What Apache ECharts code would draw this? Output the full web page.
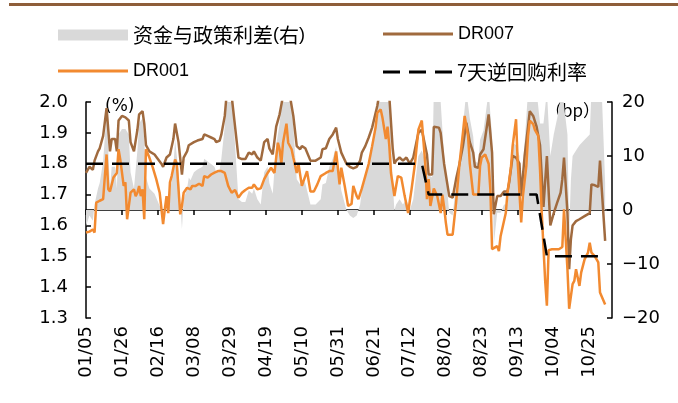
<!DOCTYPE html>
<html>
<head>
<meta charset="utf-8">
<script src="https://cdn.jsdelivr.net/npm/echarts@6/dist/echarts.min.js"></script>
<style>
html,body{margin:0;padding:0;background:#fff;}
#main{width:678px;height:403px;}
</style>
</head>
<body>
<div id="main"></div>
<script>
// x = days since 2024-01-05, labels every 21 days
var startY = 2024, startM = 0, startD = 5;

// DR007 (%)
var dr007Days = [0,2,4,5,7,8,10,12,13,14,15,17,18,19,21,23,25,26,28,30,31,33,34,35,37,40,44,45,47,49,51,52,54,56,57,59,60,61,63,65,68,69,71,73,75,76,78,79,81,82,85,87,89,91,93,95,97,98,100,102,104,106,107,109,111,113,115,119,121,123,125,126,128,131,134,137,138,140,142,144,146,147,149,152,154,156,158,160,161,163,165,167,170,171,177,179,180,181,183,185,187,189,191,194,196,199,200,202,203,206,207,209,212,214,216,218,220,222,224,226,227,229,230,232,235,237,238,240,242,244,246,247,249,251,253,254,256,258,259,261,263,265,267,269,271,273,275,277,278,279,281,282,283,284,286,288,291,294,295,297,299,300,301,303];
var dr007Vals = [1.77,1.79,1.78,1.81,1.84,1.85,1.89,1.98,1.985,1.84,1.88,1.88,1.84,1.94,1.955,1.95,1.94,1.87,1.84,1.91,1.96,1.97,1.93,1.86,1.84,1.83,1.80,1.79,1.82,1.83,1.88,1.93,1.87,1.765,1.82,1.84,1.86,1.855,1.87,1.875,1.88,1.895,1.89,1.885,1.88,1.87,1.875,1.895,1.955,2.02,2.02,1.92,1.82,1.815,1.815,1.836,1.83,1.84,1.82,1.81,1.87,1.88,1.85,1.83,1.92,1.96,2.02,2.02,1.955,1.857,1.847,1.857,1.85,1.81,1.81,1.82,1.847,1.85,1.88,1.895,1.917,1.88,1.836,1.80,1.79,1.785,1.79,1.81,1.836,1.857,1.885,1.917,1.987,2.02,2.02,1.85,1.80,1.81,1.82,1.81,1.82,1.80,1.82,1.90,1.91,1.83,1.765,1.765,1.92,1.917,1.90,1.80,1.695,1.69,1.75,1.80,1.857,1.933,1.87,1.836,1.79,1.787,1.83,1.847,1.96,1.836,1.636,1.695,1.695,1.71,1.71,1.74,1.825,1.82,1.80,1.695,1.825,1.92,1.97,1.955,1.92,1.86,1.66,1.825,1.60,1.64,1.674,1.706,1.75,1.82,1.64,1.458,1.555,1.60,1.614,1.62,1.63,1.64,1.733,1.73,1.725,1.81,1.72,1.55];

// DR001 (%)
var dr001Days = [0,2,4,5,6,8,10,12,13,14,16,17,18,19,20,22,23,24,26,27,28,29,30,31,32,33,34,35,37,39,41,43,45,46,47,48,49,50,52,53,55,56,57,59,61,62,64,66,68,69,71,73,75,77,79,81,83,85,87,89,91,93,95,97,98,100,102,104,106,108,110,112,113,114,115,117,118,120,121,123,124,126,127,129,131,133,135,137,140,142,144,146,148,149,151,153,155,156,158,159,161,163,165,167,169,170,172,173,175,176,177,178,180,182,184,186,188,189,190,192,194,196,197,198,199,200,201,203,205,207,208,209,210,211,212,214,216,218,220,221,223,224,226,227,229,230,231,233,235,236,237,238,240,241,242,243,245,246,248,249,251,252,254,255,257,258,259,261,262,264,265,266,268,269,270,272,274,276,278,279,280,281,282,284,285,286,288,289,291,293,294,295,297,299,300,303];
var dr001Vals = [1.577,1.58,1.587,1.577,1.674,1.68,1.685,1.83,1.717,1.71,1.755,1.76,1.77,1.847,1.814,1.728,1.74,1.62,1.706,1.706,1.717,1.695,1.706,1.728,1.695,1.717,1.62,1.847,1.82,1.787,1.75,1.706,1.604,1.652,1.695,1.64,1.74,1.76,1.814,1.80,1.636,1.663,1.706,1.722,1.717,1.728,1.728,1.735,1.728,1.76,1.755,1.765,1.771,1.776,1.776,1.77,1.728,1.706,1.715,1.69,1.706,1.715,1.722,1.722,1.733,1.717,1.72,1.75,1.77,1.787,1.77,1.868,1.847,1.80,1.868,1.93,1.868,1.847,1.82,1.77,1.80,1.728,1.733,1.776,1.71,1.71,1.733,1.76,1.77,1.776,1.776,1.84,1.733,1.787,1.728,1.663,1.67,1.728,1.695,1.685,1.72,1.76,1.80,1.857,1.917,1.965,1.976,1.95,1.88,1.92,1.86,1.77,1.695,1.76,1.755,1.695,1.64,1.68,1.717,1.80,1.91,1.94,1.87,1.80,1.685,1.75,1.663,1.72,1.695,1.64,1.70,1.66,1.61,1.57,1.566,1.57,1.674,1.80,1.90,1.955,1.89,1.80,1.70,1.695,1.70,1.793,1.82,1.83,1.80,1.717,1.523,1.525,1.533,1.517,1.566,1.566,1.64,1.706,1.787,1.857,1.944,1.80,1.61,1.695,1.793,1.89,1.94,1.928,1.91,1.89,1.78,1.64,1.42,1.34,1.52,1.523,1.523,1.523,1.53,1.652,1.555,1.458,1.33,1.41,1.42,1.458,1.404,1.447,1.49,1.512,1.544,1.512,1.50,1.48,1.383,1.344];

// 资金与政策利差 (bp, right axis)
var spreadDays = [0,2,4,5,7,8,10,12,13,14,15,17,18,19,21,23,25,26,28,30,31,33,34,35,37,40,44,45,47,49,51,52,54,56,57,59,60,61,63,65,68,69,71,73,75,76,78,79,81,82,85,87,89,91,93,95,97,98,100,102,104,106,107,109,111,113,115,119,121,123,125,126,128,131,134,137,138,140,142,144,146,147,149,152,154,156,158,160,161,163,165,167,170,171,177,179,180,181,183,185,187,189,191,194,196,199,200,202,203,206,207,209,212,214,216,218,220,222,224,226,227,229,230,232,235,237,238,240,242,244,246,247,249,251,253,254,256,258,259,261,263,265,267,269,271,273,275,277,278,279,281,282,283,284,286,288,291,294,295,297,299,300,301,303];
var spreadVals = [-3,-1,-2,1,4,5,9,18,18,4,8,8,4,14,15,15,14,7,4,11,16,17,13,6,4,3,0,-1,2,3,8,13,7,-3.5,2,4,6,5.5,7,7.5,8,9.5,9,8.5,8,7,7.5,9.5,15.5,22,22,12,2,1.5,1.5,3.6,3,4,2,1,7,8,5,3,12,16,22,22,15.5,5.7,4.7,5.7,5,1,1,2,4.7,5,8,9.5,11.7,8,3.6,0,-1,-1.5,-1,1,3.6,5.7,8.5,11.7,18.7,22,22,5,0,1,2,1,2,0,2,10,11,8,6.5,6,22,21.7,20,10,-0.5,-1,5,10,15.7,22,17,13.6,9,8.7,13,14.7,22,13.6,-6.4,-0.5,-0.5,1,1,4,12.5,12,10,-0.5,12.5,22,22,22,22,16,16,22,10,14,17,20.6,22,22,14,-4,5.5,10,11,12,13,14,22,22,22,22,22,5];

// 7天逆回购利率 (%)
var repoDays = [0,196,200,263,269,303];
var repoVals = [1.8,1.8,1.7,1.7,1.5,1.5];

function pair(days, vals) {
	var out = [];
	for (var i = 0; i < days.length; i++) {
		out.push([days[i], vals[i]]);
	}
	return out;
}
function pad(n) {
	return n < 10 ? '0' + n : '' + n;
}
function dayLabel(v) {
	var d = new Date(startY, startM, startD + v);
	return pad(d.getMonth() + 1) + '/' + pad(d.getDate());
}
// chinese runs a bit bigger than latin, like the original
function legendFmt(name) {
	return name.replace(/([\u4e00-\u9fa5]+)/g, '{c|$1}');
}

var axisFont = 'DejaVu Sans';
var legendText = {
	fontSize : 18,
	color : '#000',
	fontFamily : 'Liberation Sans',
	rich : {
		c : {fontSize : 20, color : '#000', fontFamily : 'Noto Sans CJK SC'}
	}
};
var lineIcon = 'path://M0,0H70V3H0Z';
var dashIcon = 'path://M0,0H17V3H0ZM26,0H43V3H26ZM52,0H69V3H52Z';

var myChart = echarts.init(document.getElementById('main'));
var option = {
	animation : false,
	backgroundColor : '#fff',
	grid : {
		left : 86,
		right : 66,
		top : 102,
		bottom : 85
	},
	legend : [{
		data : [{name : '资金与政策利差(右)', icon : 'rect'}],
		left : 58, top : 25, padding : 0,
		itemWidth : 70, itemHeight : 11,
		formatter : legendFmt,
		textStyle : legendText
	}, {
		data : [{name : 'DR007', icon : lineIcon}],
		left : 383, top : 25, padding : 0,
		itemWidth : 70, itemHeight : 3,
		formatter : legendFmt,
		textStyle : legendText
	}, {
		data : [{name : 'DR001', icon : lineIcon}],
		left : 58, top : 62, padding : 0,
		itemWidth : 70, itemHeight : 3,
		formatter : legendFmt,
		textStyle : legendText
	}, {
		data : [{name : '7天逆回购利率', icon : dashIcon}],
		left : 383, top : 62, padding : 0,
		itemWidth : 69, itemHeight : 3,
		formatter : legendFmt,
		textStyle : legendText
	}],
	graphic : [{
		type : 'rect',
		shape : {x : 9, y : 3, width : 669, height : 3},
		style : {fill : '#8E5E3A'}
	}, {
		type : 'text',
		left : 105, top : 98,
		style : {text : '(%)', fontSize : 17, fill : '#000', fontFamily : axisFont}
	}, {
		type : 'text',
		left : 545, top : 102,
		style : {text : '（bp）', fontSize : 17, fill : '#000', fontFamily : 'Noto Sans CJK SC'}
	}],
	xAxis : {
		type : 'value',
		min : 0,
		max : 307,
		interval : 21,
		splitLine : {show : false},
		axisLine : {lineStyle : {color : '#000', width : 1.5}},
		axisTick : {length : 5, lineStyle : {color : '#000', width : 1.5}},
		axisLabel : {
			rotate : 90,
			fontSize : 18,
			color : '#000',
			fontFamily : axisFont,
			margin : 8,
			showMaxLabel : false,
			formatter : function(v) {
				return v % 21 === 0 ? dayLabel(v) : '';
			}
		}
	},
	yAxis : [{
		type : 'value',
		min : 1.3,
		max : 2.0,
		interval : 0.1,
		position : 'left',
		splitLine : {show : false},
		axisLine : {show : true, lineStyle : {color : '#000', width : 1.5}},
		axisTick : {show : true, inside : true, length : 5, lineStyle : {color : '#000', width : 1.5}},
		axisLabel : {
			fontSize : 18,
			color : '#000',
			fontFamily : axisFont,
			margin : 18,
			formatter : function(v) {
				return v.toFixed(1);
			}
		}
	}, {
		type : 'value',
		min : -20,
		max : 20,
		interval : 10,
		position : 'right',
		splitLine : {show : false},
		axisLine : {show : true, lineStyle : {color : '#000', width : 1.5}},
		axisTick : {show : true, inside : true, length : 5, lineStyle : {color : '#000', width : 1.5}},
		axisLabel : {
			fontSize : 18,
			color : '#000',
			fontFamily : axisFont,
			margin : 10,
			formatter : function(v) {
				return v < 0 ? '\u2212' + (-v) : '' + v;
			}
		}
	}],
	series : [{
		name : '资金与政策利差(右)',
		type : 'line',
		yAxisIndex : 1,
		data : pair(spreadDays, spreadVals),
		symbol : 'none',
		itemStyle : {color : '#D9D9D9'},
		lineStyle : {width : 0, color : '#D9D9D9'},
		areaStyle : {color : '#D9D9D9', opacity : 1},
		z : 1
	}, {
		name : 'DR007',
		type : 'line',
		data : pair(dr007Days, dr007Vals),
		symbol : 'none',
		itemStyle : {color : '#A06A3E'},
		lineStyle : {width : 2.5, color : '#A06A3E'},
		z : 2
	}, {
		name : 'DR001',
		type : 'line',
		data : pair(dr001Days, dr001Vals),
		symbol : 'none',
		itemStyle : {color : '#F28A30'},
		lineStyle : {width : 2.5, color : '#F28A30'},
		z : 3
	}, {
		name : '7天逆回购利率',
		type : 'line',
		data : pair(repoDays, repoVals),
		symbol : 'none',
		itemStyle : {color : '#000'},
		lineStyle : {width : 2.5, color : '#000', type : [17, 9]},
		z : 4
	}]
};
myChart.setOption(option);
</script>
</body>
</html>
